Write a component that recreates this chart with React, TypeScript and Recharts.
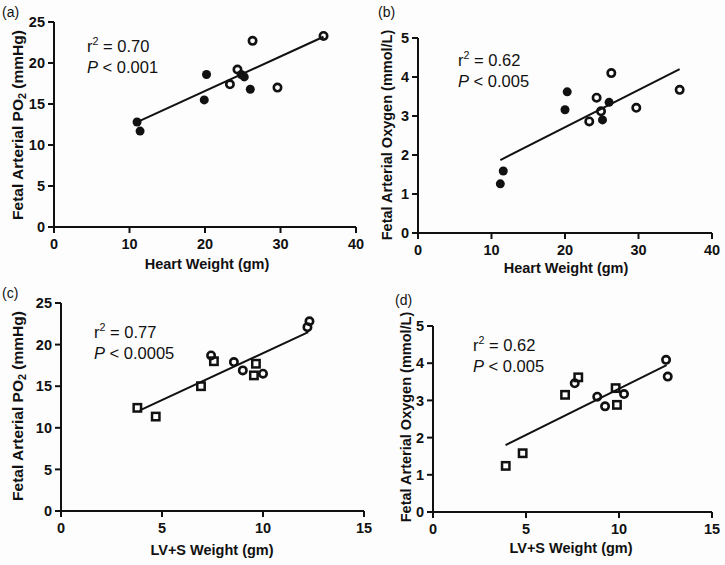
import React from 'react';
import { ScatterChart, Scatter, XAxis, YAxis } from 'recharts';

const FONT = '"Liberation Sans", Arial, Helvetica, sans-serif';
const INK = '#111';

// axis ticks
const heartTicks = [0, 10, 20, 30, 40];
const lvTicks = [0, 5, 10, 15];
const po2Ticks = [0, 5, 10, 15, 20, 25];
const oxyTicks = [0, 1, 2, 3, 4, 5];

// (a) heart weight vs PO2
const aFilledX = [11.0, 11.4, 19.9, 20.2, 24.8, 25.2, 26.0];
const aFilledY = [12.8, 11.7, 15.5, 18.6, 18.6, 18.3, 16.8];
const aOpenX = [23.3, 24.3, 26.3, 29.6, 35.7];
const aOpenY = [17.4, 19.2, 22.7, 17.0, 23.3];
const aFitX = [11.0, 35.7];
const aFitY = [12.8, 23.2];

// (b) heart weight vs oxygen
const bFilledX = [11.2, 11.6, 20.3, 20.0, 25.1, 26.0];
const bFilledY = [1.26, 1.59, 3.62, 3.16, 2.9, 3.35];
const bOpenX = [23.3, 24.3, 24.9, 26.3, 29.7, 35.6];
const bOpenY = [2.86, 3.47, 3.12, 4.1, 3.21, 3.67];
const bFitX = [11.2, 35.6];
const bFitY = [1.87, 4.2];

// (c) LV+S weight vs PO2
const cSquareX = [3.78, 4.69, 6.93, 7.57, 9.65, 9.55];
const cSquareY = [12.4, 11.35, 15.0, 18.0, 17.7, 16.3];
const cCircleX = [7.43, 8.56, 9.0, 10.0, 12.3, 12.2];
const cCircleY = [18.7, 17.9, 16.9, 16.5, 22.8, 22.1];
const cFitX = [3.9, 12.24];
const cFitY = [12.1, 21.5];

// (d) LV+S weight vs oxygen
const dSquareX = [3.91, 4.82, 7.1, 7.81, 9.82, 9.89];
const dSquareY = [1.24, 1.58, 3.15, 3.62, 3.33, 2.88];
const dCircleX = [7.62, 8.83, 9.25, 10.27, 12.53, 12.62];
const dCircleY = [3.46, 3.1, 2.84, 3.17, 4.09, 3.64];
const dFitX = [3.9, 12.56];
const dFitY = [1.8, 3.95];

type Pt = { x: number; y: number };
const pts = (xs: number[], ys: number[]): Pt[] => xs.map((x, i) => ({ x, y: ys[i] }));

const FilledDot = (p: any) => <circle cx={p.cx} cy={p.cy} r={4.5} fill={INK} />;
const OpenDot = (p: any) => (
  <circle cx={p.cx} cy={p.cy} r={3.7} fill="none" stroke={INK} strokeWidth={2.6} />
);
const OpenSquare = (p: any) => (
  <rect x={p.cx - 3.7} y={p.cy - 3.7} width={7.4} height={7.4} fill="none" stroke={INK} strokeWidth={2.5} />
);
const NoDot = () => <g />;

const XTick = (p: any) => (
  <text x={p.x} y={p.y} dy="0.71em" textAnchor="middle" fontFamily={FONT} fontSize={14.5} fontWeight="bold" fill={INK}>
    {p.payload.value}
  </text>
);
const YTick = (p: any) => (
  <text x={p.x} y={p.y} dy="0.36em" textAnchor="end" fontFamily={FONT} fontSize={14.5} fontWeight="bold" fill={INK}>
    {p.payload.value}
  </text>
);

interface PanelProps {
  left: number;
  top: number;
  width: number;
  height: number;
  plot: { left: number; right: number; top: number; bottom: number };
  xTicks: number[];
  yTicks: number[];
  series: { data: Pt[]; shape: any }[];
  fit: Pt[];
}

const lineStyle = { stroke: INK, strokeWidth: 2 };

const Panel: React.FC<PanelProps> = ({ left, top, width, height, plot, xTicks, yTicks, series, fit }) => (
  <div style={{ position: 'absolute', left, top }}>
    <ScatterChart
      width={width}
      height={height}
      margin={{ top: plot.top, right: width - plot.right, bottom: 0, left: 0 }}
    >
      <XAxis
        type="number"
        dataKey="x"
        domain={[xTicks[0], xTicks[xTicks.length - 1]]}
        ticks={xTicks}
        interval={0}
        height={height - plot.bottom}
        stroke={INK}
        tick={<XTick />}
        tickLine={lineStyle}
        axisLine={lineStyle}
        tickSize={6}
        tickMargin={6}
      />
      <YAxis
        type="number"
        dataKey="y"
        domain={[yTicks[0], yTicks[yTicks.length - 1]]}
        ticks={yTicks}
        interval={0}
        width={plot.left}
        stroke={INK}
        tick={<YTick />}
        tickLine={lineStyle}
        axisLine={lineStyle}
        tickSize={6}
        tickMargin={3}
      />
      <Scatter
        data={fit}
        shape={NoDot}
        line={{ stroke: INK, strokeWidth: 2 }}
        lineType="joint"
        isAnimationActive={false}
      />
      {series.map((s, i) => (
        <Scatter key={i} data={s.data} shape={s.shape} isAnimationActive={false} />
      ))}
    </ScatterChart>
  </div>
);

const XTitle = ({ cx, baseline, text }: { cx: number; baseline: number; text: React.ReactNode }) => (
  <div
    style={{
      position: 'absolute',
      left: cx - 150,
      top: baseline - 12.7,
      width: 300,
      textAlign: 'center',
      fontFamily: FONT,
      fontWeight: 'bold',
      fontSize: 14.5,
      lineHeight: 1,
      color: INK,
    }}
  >
    {text}
  </div>
);

const YTitle = ({ cx, cy, size, text }: { cx: number; cy: number; size: number; text: React.ReactNode }) => (
  <div
    style={{
      position: 'absolute',
      left: cx - 150,
      top: cy - 8,
      width: 300,
      height: 16,
      textAlign: 'center',
      fontFamily: FONT,
      fontWeight: 'bold',
      fontSize: size,
      lineHeight: '16px',
      color: INK,
      transform: 'rotate(-90deg)',
      transformOrigin: 'center',
      whiteSpace: 'nowrap',
    }}
  >
    {text}
  </div>
);

const Stats = ({ left, top, r2, p }: { left: number; top: number; r2: string; p: string }) => (
  <div
    style={{
      position: 'absolute',
      left,
      top,
      fontFamily: FONT,
      fontSize: 16.5,
      lineHeight: '19.5px',
      color: INK,
      whiteSpace: 'nowrap',
    }}
  >
    <div>
      r<span style={{ fontSize: '0.65em', position: 'relative', top: '-0.6em' }}>2</span> = {r2}
    </div>
    <div>
      <i>P</i> &lt; {p}
    </div>
  </div>
);

const Letter = ({ left, top, text }: { left: number; top: number; text: string }) => (
  <div style={{ position: 'absolute', left, top, fontFamily: FONT, fontSize: 14, lineHeight: 1, color: INK }}>
    {text}
  </div>
);

const po2Title = (
  <span>
    Fetal Arterial PO<span style={{ fontSize: '0.7em', position: 'relative', top: '0.3em' }}>2</span> (mmHg)
  </span>
);
const oxyTitle = 'Fetal Arterial Oxygen (mmol/L)';

export default function App() {
  return (
    <div
      style={{
        position: 'absolute',
        left: 0,
        top: 0,
        width: 725,
        height: 565,
        background: '#fdfdfd',
        overflow: 'hidden',
      }}
    >
      <Panel
        left={0}
        top={0}
        width={380}
        height={275}
        plot={{ left: 54, right: 356, top: 22, bottom: 227 }}
        xTicks={heartTicks}
        yTicks={po2Ticks}
        series={[
          { data: pts(aFilledX, aFilledY), shape: FilledDot },
          { data: pts(aOpenX, aOpenY), shape: OpenDot },
        ]}
        fit={pts(aFitX, aFitY)}
      />
      <Panel
        left={370}
        top={0}
        width={355}
        height={275}
        plot={{ left: 48, right: 342, top: 38, bottom: 233 }}
        xTicks={heartTicks}
        yTicks={oxyTicks}
        series={[
          { data: pts(bFilledX, bFilledY), shape: FilledDot },
          { data: pts(bOpenX, bOpenY), shape: OpenDot },
        ]}
        fit={pts(bFitX, bFitY)}
      />
      <Panel
        left={0}
        top={280}
        width={380}
        height={285}
        plot={{ left: 61, right: 364, top: 23, bottom: 231 }}
        xTicks={lvTicks}
        yTicks={po2Ticks}
        series={[
          { data: pts(cSquareX, cSquareY), shape: OpenSquare },
          { data: pts(cCircleX, cCircleY), shape: OpenDot },
        ]}
        fit={pts(cFitX, cFitY)}
      />
      <Panel
        left={370}
        top={280}
        width={355}
        height={285}
        plot={{ left: 63, right: 342, top: 46, bottom: 232 }}
        xTicks={lvTicks}
        yTicks={oxyTicks}
        series={[
          { data: pts(dSquareX, dSquareY), shape: OpenSquare },
          { data: pts(dCircleX, dCircleY), shape: OpenDot },
        ]}
        fit={pts(dFitX, dFitY)}
      />

      <XTitle cx={207} baseline={270} text="Heart Weight (gm)" />
      <XTitle cx={566} baseline={274} text="Heart Weight (gm)" />
      <XTitle cx={212} baseline={556} text="LV+S Weight (gm)" />
      <XTitle cx={571} baseline={554} text="LV+S Weight (gm)" />

      <YTitle cx={18} cy={125} size={15.5} text={po2Title} />
      <YTitle cx={387} cy={135} size={14.5} text={oxyTitle} />
      <YTitle cx={18} cy={406} size={15.5} text={po2Title} />
      <YTitle cx={406} cy={417} size={14.5} text={oxyTitle} />

      <Stats left={87} top={36.5} r2="0.70" p="0.001" />
      <Stats left={458} top={50.5} r2="0.62" p="0.005" />
      <Stats left={94} top={322.5} r2="0.77" p="0.0005" />
      <Stats left={473} top={335.5} r2="0.62" p="0.005" />

      <Letter left={2} top={5} text="(a)" />
      <Letter left={378} top={5} text="(b)" />
      <Letter left={2} top={286} text="(c)" />
      <Letter left={395} top={293} text="(d)" />
    </div>
  );
}
